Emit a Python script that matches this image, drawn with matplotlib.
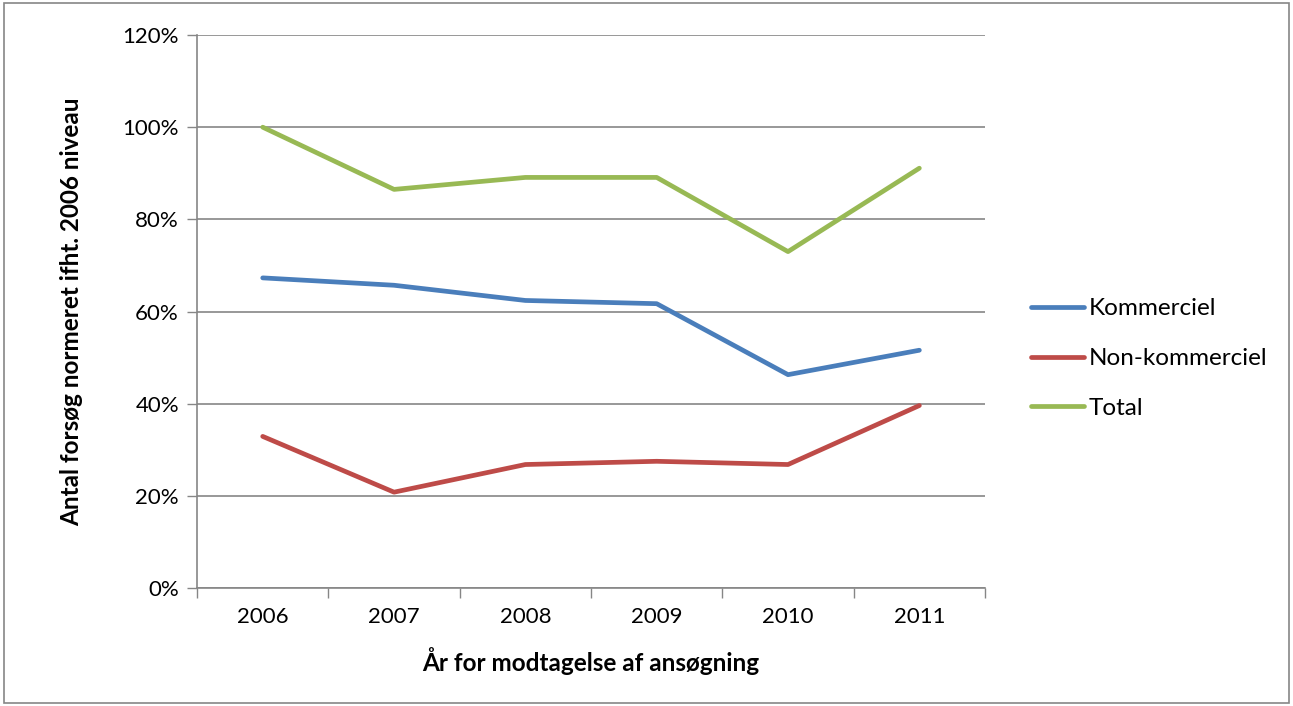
import matplotlib.pyplot as plt
from matplotlib.patches import Rectangle
from matplotlib.ticker import FuncFormatter

years = ["2006", "2007", "2008", "2009", "2010", "2011"]
kommerciel = [67.3, 65.7, 62.4, 61.7, 46.3, 51.6]
non_kommerciel = [32.9, 20.8, 26.8, 27.5, 26.8, 39.6]
total = [100.0, 86.5, 89.1, 89.1, 73.0, 91.1]

series_names = ["Kommerciel", "Non-kommerciel", "Total"]
series_colors = ["#4A7EBB", "#BE4B48", "#98B954"]

plt.rcParams['font.family'] = ['Lato', 'DejaVu Sans']

fig = plt.figure(figsize=(12.93, 7.06), dpi=100)
ax = fig.add_axes([0.1524, 0.1671, 0.6094, 0.7833])

xs = [i + 0.5 for i in range(len(years))]
for values, name, color in zip([kommerciel, non_kommerciel, total], series_names, series_colors):
    ax.plot(xs, values, color=color, lw=3.4, label=name, solid_capstyle="round", zorder=3)

ax.set_xlim(0, len(years))
ax.set_ylim(0, 120)
ax.set_yticks(range(0, 121, 20))
ax.yaxis.set_major_formatter(FuncFormatter(lambda v, p: f"{v:.0f}%"))
ax.set_xticks(range(len(years) + 1))
ax.set_xticklabels([])
ax.set_xticks(xs, minor=True)
ax.set_xticklabels(years, minor=True)
ax.tick_params(axis="x", which="major", length=7, width=1, color="#868686", direction="out")
ax.tick_params(axis="x", which="minor", length=0, pad=14, labelsize=16)
ax.tick_params(axis="y", length=7, width=1, color="#868686", labelsize=16, pad=6)
ax.grid(axis="y", color="#868686", lw=1.2, zorder=1)
for side in ["top", "right"]:
    ax.spines[side].set_visible(False)
ax.spines["left"].set_color("#868686")
ax.spines["bottom"].set_color("#868686")
ax.spines["left"].set_linewidth(1.2)
ax.spines["bottom"].set_linewidth(1.2)

ax.set_xlabel("År for modtagelse af ansøgning", fontsize=17.5, fontweight="bold", labelpad=14)
ax.set_ylabel("Antal forsøg normeret ifht. 2006 niveau", fontsize=17.5, fontweight="bold", labelpad=28)

ax.legend(loc="center left", bbox_to_anchor=(1.03, 0.415), frameon=False, fontsize=17.5,
          handlelength=2.2, handletextpad=0.2, labelspacing=1.18)

fig.patches.append(Rectangle((0.003, 0.004), 0.994, 0.992, transform=fig.transFigure,
                             fill=False, edgecolor="#868686", lw=1.2))

fig.savefig("out.png", dpi=100)
